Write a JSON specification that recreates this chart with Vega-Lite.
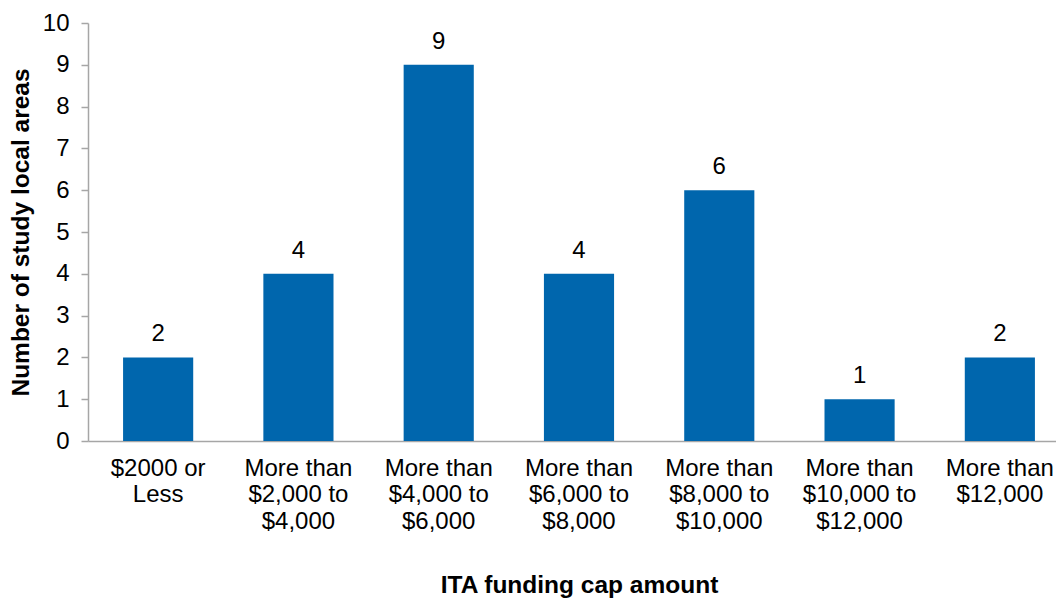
{
  "$schema": "https://vega.github.io/schema/vega-lite/v6.json",
  "width": 968,
  "height": 418,
  "autosize": {"type": "none"},
  "padding": {"left": 88, "top": 23, "right": 0, "bottom": 158},
  "background": "white",
  "config": {
    "view": {"stroke": null},
    "font": "Liberation Sans"
  },
  "data": {
    "values": [
      {"category": "$2000 or|Less", "count": 2},
      {"category": "More than|$2,000 to|$4,000", "count": 4},
      {"category": "More than|$4,000 to|$6,000", "count": 9},
      {"category": "More than|$6,000 to|$8,000", "count": 4},
      {"category": "More than|$8,000 to|$10,000", "count": 6},
      {"category": "More than|$10,000 to|$12,000", "count": 1},
      {"category": "More than|$12,000", "count": 2}
    ]
  },
  "encoding": {
    "x": {
      "field": "category",
      "type": "nominal",
      "sort": null,
      "scale": {"paddingInner": 0.5, "paddingOuter": 0.25, "range": [0, 982]},
      "axis": {
        "title": "ITA funding cap amount",
        "titleFont": "Liberation Sans",
        "titleFontSize": 24.5,
        "titleFontWeight": "bold",
        "titleColor": "black",
        "titlePadding": 40,
        "titleAnchor": "middle",
        "labelExpr": "split(datum.label, '|')",
        "labelAngle": 0,
        "labelFontSize": 24,
        "labelLineHeight": 26.5,
        "labelColor": "black",
        "labelPadding": 15,
        "labelBaseline": "top",
        "labelOverlap": false,
        "labelBound": false,
        "ticks": false,
        "domainColor": "#A6A6A6",
        "domainWidth": 1.5,
        "grid": false
      }
    },
    "y": {
      "field": "count",
      "type": "quantitative",
      "scale": {"domain": [0, 10]},
      "axis": {
        "title": "Number of study local areas",
        "titleFont": "Liberation Sans",
        "titleFontSize": 24.5,
        "titleFontWeight": "bold",
        "titleColor": "black",
        "titlePadding": 9,
        "values": [0,1,2,3,4,5,6,7,8,9,10],
        "labelOverlap": false,
        "labelFontSize": 24,
        "labelColor": "black",
        "labelPadding": 12,
        "tickSize": 7,
        "tickColor": "#A6A6A6",
        "tickWidth": 1.5,
        "domainColor": "#A6A6A6",
        "domainWidth": 1.5,
        "grid": false
      }
    }
  },
  "layer": [
    {
      "mark": {"type": "bar", "color": "#0066AD"}
    },
    {
      "mark": {"type": "text", "dy": -16, "baseline": "alphabetic", "fontSize": 24, "color": "black", "font": "Liberation Sans"},
      "encoding": {"text": {"field": "count", "type": "quantitative"}}
    }
  ]
}
